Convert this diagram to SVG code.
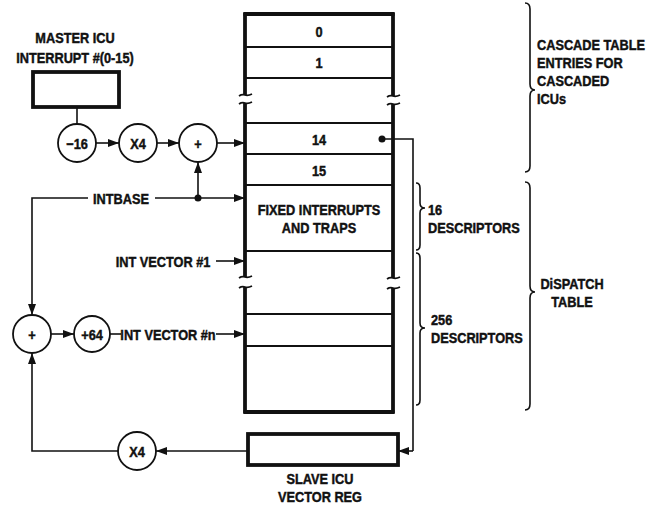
<svg xmlns="http://www.w3.org/2000/svg" width="647" height="508" viewBox="0 0 647 508">
<style>
text{font-family:"Liberation Sans",Arial,sans-serif;font-weight:bold;font-size:15px;fill:#111;stroke:#111;stroke-width:0.45}
.c{text-anchor:middle}
.ln{fill:none;stroke:#111;stroke-width:1.6}
.ar{fill:none;stroke:#111;stroke-width:1.6;marker-end:url(#ah)}
.node{fill:#fff;stroke:#111;stroke-width:1.8}
.box{fill:#fff;stroke:#111;stroke-width:3.8}
.edge{fill:none;stroke:#111;stroke-width:3.8}
.row{fill:none;stroke:#111;stroke-width:1.8}
.br{fill:none;stroke:#111;stroke-width:1.6}
</style>
<defs>
<marker id="ah" markerUnits="userSpaceOnUse" markerWidth="11" markerHeight="8" refX="11" refY="4" orient="auto">
<path d="M0,0 L11,4 L0,8 z" fill="#111"/>
</marker>
</defs>
<rect width="647" height="508" fill="#fff"/>

<g id="connectors">
<line class="ln" x1="77" y1="107" x2="77" y2="124"/>
<line class="ar" x1="96" y1="143" x2="119" y2="143"/>
<line class="ar" x1="157" y1="143" x2="179" y2="143"/>
<line class="ar" x1="217" y1="143" x2="245" y2="143"/>
<line class="ar" x1="198" y1="198" x2="198" y2="162"/>
<polyline class="ln" points="88,198 32,198 32,290"/>
<line class="ar" x1="32" y1="290" x2="32" y2="315"/>
<line class="ar" x1="155" y1="198" x2="245" y2="198"/>
<circle cx="198" cy="198" r="3.5" fill="#111"/>
<line class="ar" x1="216" y1="261" x2="245" y2="261"/>
<line class="ar" x1="51" y1="334" x2="74" y2="334"/>
<line class="ln" x1="110" y1="334" x2="121" y2="334"/>
<line class="ar" x1="216" y1="334" x2="245" y2="334"/>
<circle cx="382" cy="139" r="3.5" fill="#111"/>
<polyline class="ln" points="382,139 413,139 413,451"/>
<line class="ar" x1="413" y1="451" x2="398" y2="451"/>
<line class="ar" x1="247" y1="451" x2="156" y2="451"/>
<polyline class="ln" points="119,451 32,451 32,380"/>
<line class="ar" x1="32" y1="380" x2="32" y2="353"/>
</g>

<g id="master-icu">
<rect class="box" x="33" y="72" width="86" height="35"/>
<text class="c" transform="translate(75,43) scale(0.85,1)">MASTER ICU</text>
<text class="c" transform="translate(75,63) scale(0.85,1)">INTERRUPT #(0-15)</text>
</g>

<g id="sub16">
<circle class="node" cx="77" cy="143" r="19"/>
<text class="c" transform="translate(77,148.5) scale(0.85,1)">−16</text>
</g>
<g id="mul4-top">
<circle class="node" cx="138" cy="143" r="19"/>
<text class="c" transform="translate(138,148.5) scale(0.85,1)">X4</text>
</g>
<g id="add-top">
<circle class="node" cx="198" cy="143" r="19"/>
<text class="c" transform="translate(198,148.5) scale(0.85,1)">+</text>
</g>

<g id="intbase">
<text class="c" transform="translate(121,203.5) scale(0.85,1)">INTBASE</text>
</g>
<g id="int-vector-1">
<text class="c" transform="translate(163,266.5) scale(0.85,1)">INT VECTOR #1</text>
</g>
<g id="int-vector-n">
<text class="c" transform="translate(168,339.5) scale(0.85,1)">INT VECTOR #n</text>
</g>

<g id="add-left">
<circle class="node" cx="32" cy="334" r="19"/>
<text class="c" transform="translate(32,339.5) scale(0.85,1)">+</text>
</g>
<g id="add64">
<circle class="node" cx="92" cy="334" r="18"/>
<text class="c" transform="translate(92,339.5) scale(0.85,1)">+64</text>
</g>

<g id="mul4-bottom">
<circle class="node" cx="137" cy="451" r="19"/>
<text class="c" transform="translate(137,456.5) scale(0.85,1)">X4</text>
</g>

<g id="slave-icu">
<rect class="box" x="248" y="434" width="150" height="31"/>
<text class="c" transform="translate(320,484) scale(0.85,1)">SLAVE ICU</text>
<text class="c" transform="translate(320,502) scale(0.85,1)">VECTOR REG</text>
</g>

<g id="table">
<line class="edge" x1="243.5" y1="14" x2="394.5" y2="14"/>
<line class="edge" x1="245" y1="12.5" x2="245" y2="95"/>
<line class="edge" x1="245" y1="103" x2="245" y2="277"/>
<line class="edge" x1="245" y1="287" x2="245" y2="413.5"/>
<line class="edge" x1="393" y1="12.5" x2="393" y2="96"/>
<line class="edge" x1="393" y1="104" x2="393" y2="278"/>
<line class="edge" x1="393" y1="288" x2="393" y2="413.5"/>
<line class="edge" x1="243.5" y1="412" x2="394.5" y2="412"/>
<path class="row" d="M239,96 q3,-2 6,-1 q3,1 7,-1 M239,104 q3,-2 6,-1 q3,1 7,-1 M239,278 q3,-2 6,-1 q3,1 7,-1 M239,288 q3,-2 6,-1 q3,1 7,-1"/>
<path class="row" d="M387,97 q3,-2 6,-1 q3,1 7,-1 M387,105 q3,-2 6,-1 q3,1 7,-1 M387,279 q3,-2 6,-1 q3,1 7,-1 M387,289 q3,-2 6,-1 q3,1 7,-1"/>
<line class="row" x1="245" y1="47" x2="393" y2="47"/>
<line class="row" x1="245" y1="78" x2="393" y2="78"/>
<line class="row" x1="245" y1="123" x2="393" y2="123"/>
<line class="row" x1="245" y1="154" x2="393" y2="154"/>
<line class="row" x1="245" y1="185" x2="393" y2="185"/>
<line class="row" x1="245" y1="251" x2="393" y2="251"/>
<line class="row" x1="245" y1="314" x2="393" y2="314"/>
<line class="row" x1="245" y1="346" x2="393" y2="346"/>
<text class="c" transform="translate(319,36.5) scale(0.85,1)">0</text>
<text class="c" transform="translate(319,67.5) scale(0.85,1)">1</text>
<text class="c" transform="translate(319,144.5) scale(0.85,1)">14</text>
<text class="c" transform="translate(319,175.5) scale(0.85,1)">15</text>
<text class="c" transform="translate(319,214.5) scale(0.85,1)">FIXED INTERRUPTS</text>
<text class="c" transform="translate(319,233) scale(0.85,1)">AND TRAPS</text>
</g>

<g id="brace-cascade">
<path class="br" d="M525,3 Q530,3 530,9 L530,84 Q530,90 535,90 Q530,90 530,96 L530,166 Q530,172 525,172"/>
<text transform="translate(537,49.5) scale(0.85,1)">CASCADE TABLE</text>
<text transform="translate(537,67.5) scale(0.85,1)">ENTRIES FOR</text>
<text transform="translate(537,85.5) scale(0.85,1)">CASCADED</text>
<text transform="translate(537,103.5) scale(0.85,1)">ICUs</text>
</g>

<g id="brace-16">
<path class="br" d="M416,183 Q420,183 420,188 L420,203 Q420,208 425,208 Q420,208 420,213 L420,245 Q420,250 416,250"/>
<text transform="translate(428,215) scale(0.85,1)">16</text>
<text transform="translate(428,232.5) scale(0.85,1)">DESCRIPTORS</text>
</g>

<g id="brace-256">
<path class="br" d="M416,253 Q420,253 420,258 L420,323 Q420,328 425,328 Q420,328 420,333 L420,400 Q420,405 416,405"/>
<text transform="translate(431,325) scale(0.85,1)">256</text>
<text transform="translate(431,342.5) scale(0.85,1)">DESCRIPTORS</text>
</g>

<g id="brace-dispatch">
<path class="br" d="M525,182 Q530,182 530,188 L530,286 Q530,292 535,292 Q530,292 530,298 L530,404 Q530,410 525,410"/>
<text class="c" transform="translate(572,289) scale(0.85,1)">DiSPATCH</text>
<text class="c" transform="translate(572,306.5) scale(0.85,1)">TABLE</text>
</g>
</svg>
